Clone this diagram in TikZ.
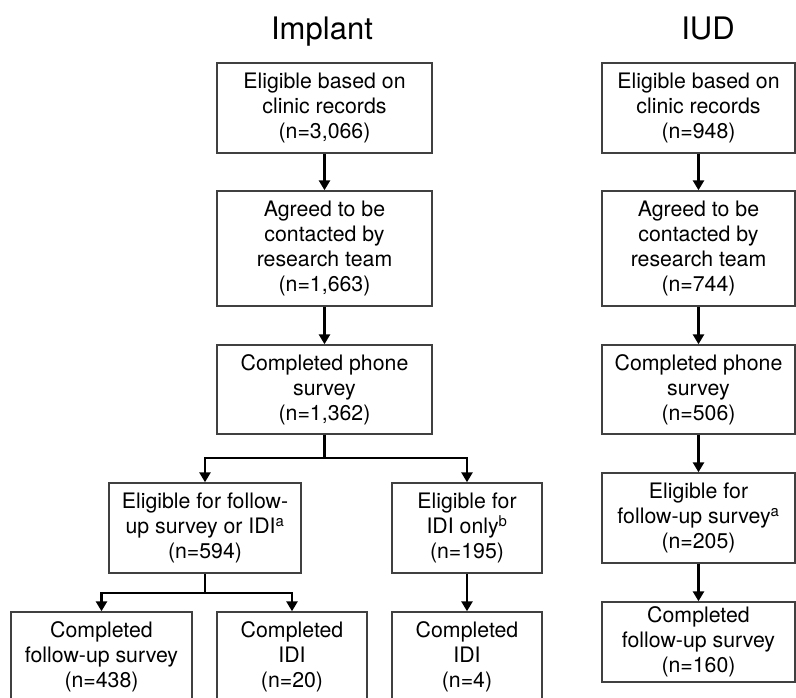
\documentclass[tikz,border=0pt]{standalone}
\usepackage{fontspec}
\setmainfont{TeX Gyre Heros}
\usetikzlibrary{arrows.meta}
\begin{document}
\begin{tikzpicture}[x=1pt,y=-1pt,
  box/.style={draw=black!75,line width=1.4pt,align=center,inner sep=0pt,font=\fontsize{21.3}{25}\selectfont},
  conn/.style={line width=2.8pt,black},
  arr/.style={conn,-{Triangle[length=10pt,width=11pt]}},
  ttl/.style={font=\fontsize{31}{36}\selectfont,anchor=base}]
\clip (0,0) rectangle (796,697);
\node[ttl] (t1) at (322,39) {Implant};
\node[ttl] (t2) at (708,39) {IUD};
% Implant column
\node[box,minimum width=215,minimum height=90] (A1) at (324.5,108) {Eligible based on\\clinic records\\(n=3,066)};
\node[box,minimum width=215,minimum height=115] (A2) at (324.5,248.5) {Agreed to be\\contacted by\\research team\\(n=1,663)};
\node[box,minimum width=215,minimum height=89] (A3) at (324.5,389.5) {Completed phone\\survey\\(n=1,362)};
\node[box,minimum width=192,minimum height=90] (B1) at (205,528) {Eligible for follow-\\up survey or IDI\textsuperscript{a}\\(n=594)};
\node[box,minimum width=150,minimum height=90] (B2) at (467,528) {Eligible for\\IDI only\textsuperscript{b}\\(n=195)};
\node[box,minimum width=181,minimum height=90] (C1) at (101.5,657) {Completed\\follow-up survey\\(n=438)};
\node[box,minimum width=150,minimum height=90] (C2) at (292,657) {Completed\\IDI\\(n=20)};
\node[box,minimum width=150,minimum height=90] (C3) at (467,657) {Completed\\IDI\\(n=4)};
\draw[arr] (A1) -- (A2);
\draw[arr] (A2) -- (A3);
\coordinate (j1) at (324.5,458);
\draw[arr] (A3.south) -- (j1) -| (B1.north);
\draw[arr] (j1) -| (B2.north);
\coordinate (j2) at (205,593);
\draw[arr] (B1.south) -- (j2) -| (C1.north);
\draw[arr] (j2) -| (C2.north);
\draw[arr] (B2) -- (C3);
% IUD column
\node[box,minimum width=193,minimum height=90] (D1) at (698.5,108) {Eligible based on\\clinic records\\(n=948)};
\node[box,minimum width=193,minimum height=115] (D2) at (698.5,248.5) {Agreed to be\\contacted by\\research team\\(n=744)};
\node[box,minimum width=193,minimum height=89] (D3) at (698.5,389.5) {Completed phone\\survey\\(n=506)};
\node[box,minimum width=193,minimum height=90] (D4) at (698.5,518) {Eligible for\\follow-up survey\textsuperscript{a}\\(n=205)};
\node[box,minimum width=193,minimum height=80] (D5) at (698.5,642) {Completed\\follow-up survey\\(n=160)};
\draw[arr] (D1) -- (D2);
\draw[arr] (D2) -- (D3);
\draw[arr] (D3) -- (D4);
\draw[arr] (D4) -- (D5);
\end{tikzpicture}
\end{document}
